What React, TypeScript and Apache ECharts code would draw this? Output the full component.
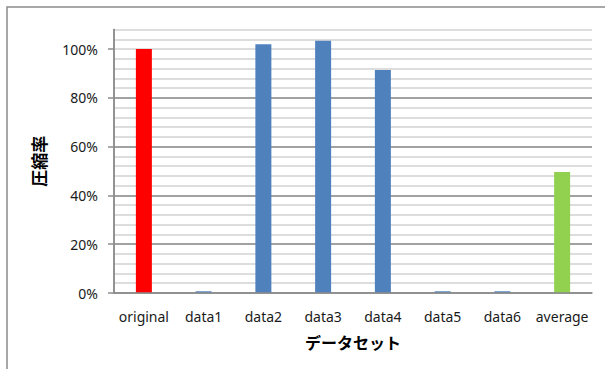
import React, { useEffect, useRef } from "react";
import * as echarts from "echarts";

const categories = ["original", "data1", "data2", "data3", "data4", "data5", "data6", "average"];
const ratios = [100, 0.7, 102, 103.4, 91.4, 0.7, 0.7, 49.6];
const barColors = ["#FF0000", "#4F81BD", "#4F81BD", "#4F81BD", "#4F81BD", "#4F81BD", "#4F81BD", "#92D050"];
const majorTicks = [0, 20, 40, 60, 80, 100];
const yAxisName = "圧縮率";
const xAxisName = "データセット";

const FONT = "'Noto Sans', 'Noto Sans CJK JP', sans-serif";

export default function App() {
  const ref = useRef<HTMLDivElement>(null);
  useEffect(() => {
    if (!ref.current) return;
    const chart = echarts.init(ref.current, null, { renderer: "svg" });
    chart.setOption({
      animation: false,
      backgroundColor: "#ffffff",
      grid: { left: 114, right: 13, top: 29.5, bottom: 76, containLabel: false },
      graphic: [
        {
          type: "rect",
          shape: { x: 7, y: 7, width: 620, height: 380 },
          style: { fill: "none", stroke: "#8c8c8c", lineWidth: 1.5 },
          silent: true,
        },
      ],
      xAxis: {
        type: "category",
        data: categories,
        name: xAxisName,
        nameLocation: "middle",
        nameGap: 42,
        nameTextStyle: { fontFamily: FONT, fontSize: 16, fontWeight: "bold", color: "#000" },
        axisLine: { show: true, lineStyle: { color: "#8c8c8c", width: 1.5 } },
        axisTick: { show: false },
        axisLabel: { fontFamily: FONT, fontSize: 14, color: "#1a1a1a", margin: 16, interval: 0 },
        splitLine: { show: false },
        z: 5,
      },
      yAxis: [
        {
          type: "value",
          position: "left",
          min: 0,
          max: 108,
          interval: 4,
          axisLine: { show: true, lineStyle: { color: "#8c8c8c", width: 1.5 } },
          axisTick: { show: false },
          axisLabel: { show: false },
          splitLine: { show: true, lineStyle: { color: "#d2d2d2", width: 1.5 } },
          z: 1,
        },
        {
          type: "value",
          position: "left",
          offset: 0,
          min: 0,
          max: 108,
          interval: 20,
          name: yAxisName,
          nameLocation: "middle",
          nameRotate: 90,
          nameGap: 66,
          nameTextStyle: { fontFamily: FONT, fontSize: 17, fontWeight: "bold", color: "#000" },
          axisLine: { show: true, lineStyle: { color: "#8c8c8c", width: 1.5 } },
          axisTick: {
            show: true,
            length: 6,
            customValues: majorTicks,
            lineStyle: { color: "#8c8c8c", width: 1.5 },
          },
          axisLabel: {
            fontFamily: FONT,
            fontSize: 14,
            color: "#1a1a1a",
            margin: 16,
            customValues: majorTicks,
            formatter: (v: number) => `${v}%`,
          },
          splitLine: {
            show: true,
            showMaxLine: false,
            lineStyle: { color: "#8c8c8c", width: 1.5 },
          },
          z: 2,
        },
      ],
      series: [
        {
          type: "bar",
          yAxisIndex: 0,
          barWidth: 16,
          data: ratios.map((v, i) => ({ value: v, itemStyle: { color: barColors[i] } })),
          z: 3,
        },
      ],
    });
    return () => chart.dispose();
  }, []);
  return (
    <div
      ref={ref}
      style={{ position: "fixed", left: 0, top: 0, width: 605, height: 369, background: "#fff" }}
    />
  );
}
